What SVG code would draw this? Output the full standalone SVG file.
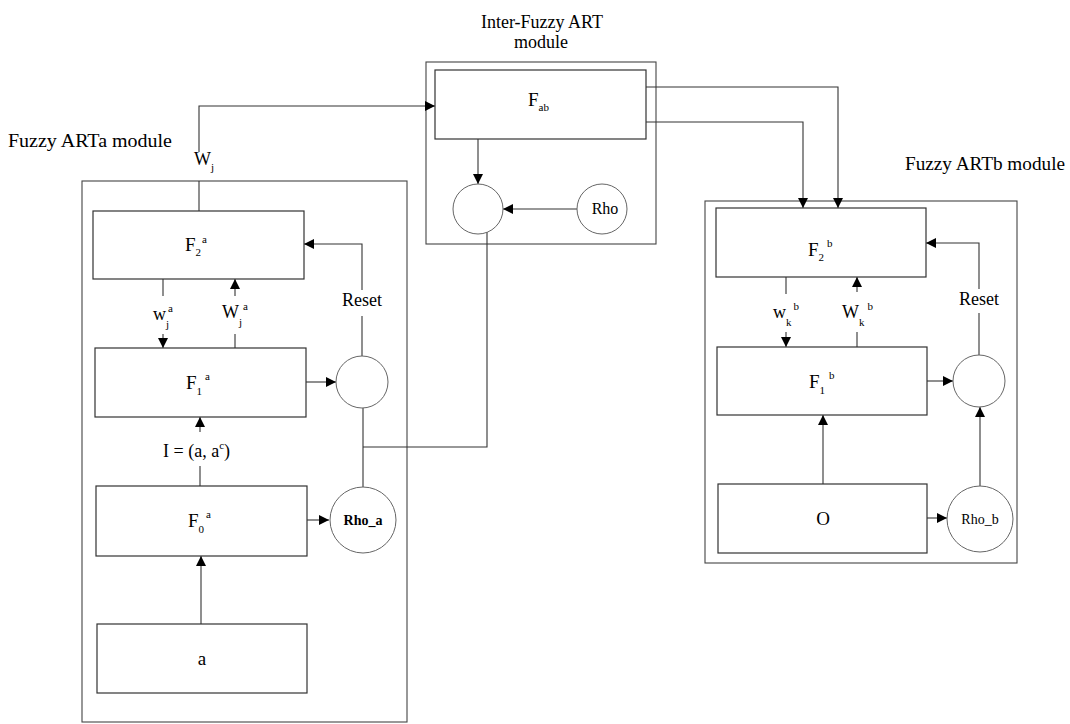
<svg xmlns="http://www.w3.org/2000/svg" width="1070" height="724" viewBox="0 0 1070 724">
<style>
  .box { fill: #fff; stroke: #333; stroke-width: 1.2; }
  .mod { fill: none; stroke: #444; stroke-width: 1.1; }
  .circ { fill: #fff; stroke: #666; stroke-width: 1; }
  .ln { fill: none; stroke: #333; stroke-width: 1.1; }
  .arr { fill: none; stroke: #333; stroke-width: 1.1; marker-end: url(#ah); }
  text { font-family: "Liberation Serif", "Times New Roman", serif; fill: #000; }
  .lbl { font-size: 18px; }
  .big { font-size: 19px; }
  .sm { font-size: 11px; }
  .rho { font-size: 14px; }
</style>
<defs>
  <marker id="ah" viewBox="0 0 10 10" refX="10" refY="5" markerWidth="10" markerHeight="10" markerUnits="userSpaceOnUse" orient="auto">
    <path d="M0,0 L10,5 L0,10 z" fill="#000"/>
  </marker>
</defs>
<rect width="1070" height="724" fill="#fff"/>

<!-- module frames and titles -->
<g id="artA-module">
  <rect class="mod" x="82" y="181" width="325" height="541"/>
  <text class="lbl" x="8" y="147" textLength="164" lengthAdjust="spacingAndGlyphs">Fuzzy ARTa module</text>
</g>
<g id="inter-module">
  <rect class="mod" x="426" y="62" width="230" height="182"/>
  <text class="lbl" x="542" y="28" text-anchor="middle">Inter-Fuzzy ART</text>
  <text class="lbl" x="541" y="48" text-anchor="middle">module</text>
</g>
<g id="artB-module">
  <rect class="mod" x="705" y="201" width="312" height="362"/>
  <text class="lbl" x="905" y="170" textLength="160" lengthAdjust="spacingAndGlyphs">Fuzzy ARTb module</text>
</g>

<!-- connectors -->
<g id="connectors">
  <!-- ARTa -->
  <path class="ln" d="M199,211 V181"/>
  <path class="arr" d="M199,152 V106 H435"/>
  <path class="ln" d="M163,279 V296"/>
  <path class="arr" d="M163,334 V348"/>
  <path class="ln" d="M235,348 V334"/>
  <path class="arr" d="M235,296 V279"/>
  <path class="arr" d="M306,382 H336"/>
  <path class="ln" d="M362,356 V316"/>
  <path class="arr" d="M362,290 V244 H304"/>
  <path class="ln" d="M200,486 V466"/>
  <path class="arr" d="M200,432 V417"/>
  <path class="arr" d="M201,624 V556"/>
  <path class="arr" d="M307,520 H329"/>
  <path class="ln" d="M363,487 V408"/>
  <path class="ln" d="M363,447 H487 V232"/>
  <!-- Inter -->
  <path class="arr" d="M478,139 V184"/>
  <path class="arr" d="M577,209 H503"/>
  <path class="arr" d="M646,87 H838 V208"/>
  <path class="arr" d="M646,122 H803 V208"/>
  <!-- ARTb -->
  <path class="ln" d="M786,277 V294"/>
  <path class="arr" d="M786,332 V347"/>
  <path class="ln" d="M857,347 V332"/>
  <path class="arr" d="M857,292 V277"/>
  <path class="arr" d="M927,381 H953"/>
  <path class="ln" d="M979,355 V313"/>
  <path class="arr" d="M979,289 V243 H926"/>
  <path class="arr" d="M823,484 V415"/>
  <path class="arr" d="M927,518 H947"/>
  <path class="arr" d="M980,486 V407"/>
</g>

<!-- ARTa nodes -->
<g id="F2a">
  <rect class="box" x="93" y="211" width="211" height="68"/>
  <text class="big" x="185" y="251">F<tspan class="sm" dy="5">2</tspan><tspan class="sm" dx="1" dy="-13">a</tspan></text>
</g>
<g id="F1a">
  <rect class="box" x="95" y="348" width="211" height="69"/>
  <text class="big" x="186" y="389">F<tspan class="sm" dy="6">1</tspan><tspan class="sm" dx="3" dy="-15">a</tspan></text>
</g>
<g id="F0a">
  <rect class="box" x="96" y="486" width="211" height="70"/>
  <text class="big" x="188" y="527">F<tspan class="sm" dy="6">0</tspan><tspan class="sm" dx="2" dy="-15">a</tspan></text>
</g>
<g id="input-a">
  <rect class="box" x="97" y="624" width="210" height="69"/>
  <text class="big" x="202" y="665" text-anchor="middle">a</text>
</g>
<g id="reset-a">
  <circle class="circ" cx="362" cy="382" r="26"/>
</g>
<g id="rho-a">
  <circle class="circ" cx="363" cy="520" r="33"/>
  <text class="rho" x="363" y="525" text-anchor="middle" font-weight="bold">Rho_a</text>
</g>
<g id="labels-a">
  <text class="lbl" x="153" y="320">w<tspan class="sm" dy="8">j</tspan><tspan class="sm" dx="-1" dy="-16">a</tspan></text>
  <text class="lbl" x="222" y="318">W<tspan class="sm" dy="8">j</tspan><tspan class="sm" dx="1" dy="-16">a</tspan></text>
  <text class="lbl" x="362" y="306" text-anchor="middle">Reset</text>
  <text class="lbl" x="163" y="457">I = (a, a<tspan class="sm" dy="-8">c</tspan><tspan dy="8">)</tspan></text>
  <text class="lbl" x="194" y="165">W<tspan class="sm" dy="6">j</tspan></text>
</g>

<!-- Inter nodes -->
<g id="Fab">
  <rect class="box" x="435" y="70" width="211" height="69"/>
  <text class="big" x="528" y="106">F<tspan class="sm" dy="5">ab</tspan></text>
</g>
<g id="comparator-ab">
  <circle class="circ" cx="478" cy="209" r="25"/>
</g>
<g id="rho-ab">
  <circle class="circ" cx="602" cy="209" r="25"/>
  <text x="605" y="214" text-anchor="middle" font-size="16">Rho</text>
</g>

<!-- ARTb nodes -->
<g id="F2b">
  <rect class="box" x="716" y="208" width="210" height="69"/>
  <text class="big" x="808" y="256">F<tspan class="sm" dy="5">2</tspan><tspan class="sm" dx="3" dy="-14">b</tspan></text>
</g>
<g id="F1b">
  <rect class="box" x="717" y="347" width="210" height="68"/>
  <text class="big" x="809" y="388">F<tspan class="sm" dy="6">1</tspan><tspan class="sm" dx="4" dy="-15">b</tspan></text>
</g>
<g id="O">
  <rect class="box" x="718" y="484" width="209" height="69"/>
  <text class="big" x="823" y="525" text-anchor="middle">O</text>
</g>
<g id="reset-b">
  <circle class="circ" cx="979" cy="381" r="26"/>
</g>
<g id="rho-b">
  <circle class="circ" cx="980" cy="519" r="33"/>
  <text class="rho" x="980" y="524" text-anchor="middle">Rho_b</text>
</g>
<g id="labels-b">
  <text class="lbl" x="773" y="318">w<tspan class="sm" dy="8">k</tspan><tspan class="sm" dx="2" dy="-16">b</tspan></text>
  <text class="lbl" x="842" y="318">W<tspan class="sm" dy="8">k</tspan><tspan class="sm" dx="3" dy="-16">b</tspan></text>
  <text class="lbl" x="979" y="305" text-anchor="middle">Reset</text>
</g>
</svg>
